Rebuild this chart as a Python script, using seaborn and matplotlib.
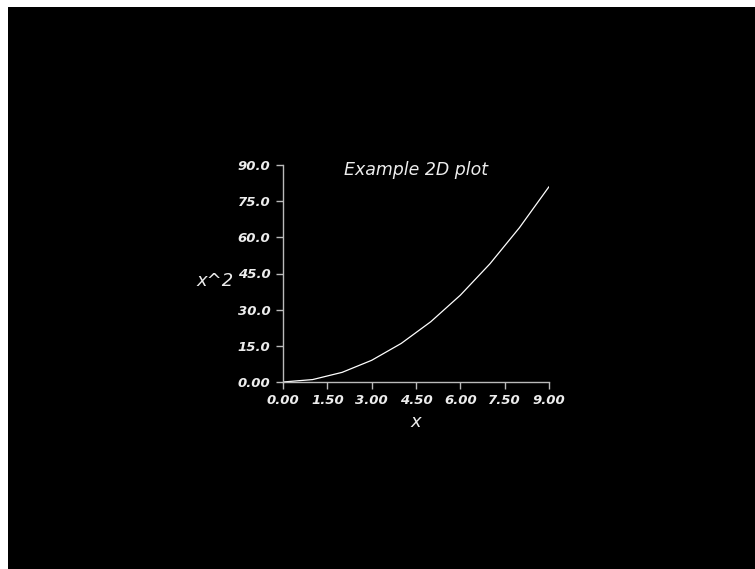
import matplotlib
matplotlib.use("Agg")
import matplotlib.pyplot as plt
import seaborn as sns

# data: y = x^2 sampled at integer x
x_vals = [0, 1, 2, 3, 4, 5, 6, 7, 8, 9]
y_vals = [0, 1, 4, 9, 16, 25, 36, 49, 64, 81]

x_ticks = [0, 1.5, 3, 4.5, 6, 7.5, 9]
x_tick_labels = ["0.00", "1.50", "3.00", "4.50", "6.00", "7.50", "9.00"]
y_ticks = [0, 15, 30, 45, 60, 75, 90]
y_tick_labels = ["0.00", "15.0", "30.0", "45.0", "60.0", "75.0", "90.0"]

sns.set_style("white")
plt.rcParams['font.family'] = ['DejaVu Sans']

fig = plt.figure(figsize=(7.55, 5.69), dpi=100, facecolor="white")

# black render window with a thin white margin on top/left
bg = fig.add_axes([8 / 755, 0, 1 - 8 / 755, 1 - 7 / 569], zorder=0)
bg.set_axis_off()
bg.add_patch(plt.Rectangle((0, 0), 1, 1, transform=bg.transAxes, color="black"))

ax = fig.add_axes([283 / 755, 1 - 382 / 569, 266 / 755, 217 / 569], zorder=1)
ax.set_facecolor("none")

sns.lineplot(x=x_vals, y=y_vals, ax=ax, color="white", linewidth=0.9)

ax.set_xlim(0, 9)
ax.set_ylim(0, 90)
ax.set_xticks(x_ticks)
ax.set_xticklabels(x_tick_labels)
ax.set_yticks(y_ticks)
ax.set_yticklabels(y_tick_labels)

fg = "#ededed"
for s in ["top", "right"]:
    ax.spines[s].set_visible(False)
for s in ["left", "bottom"]:
    ax.spines[s].set_color("#bbbbbb")
    ax.spines[s].set_linewidth(1.0)

ax.tick_params(axis="both", direction="out", length=5, width=1, color="#bbbbbb",
               labelcolor=fg, labelsize=9.5, pad=4, left=True, bottom=True)
for lab in ax.get_xticklabels() + ax.get_yticklabels():
    lab.set_fontweight("bold")
    lab.set_fontstyle("italic")

ax.text(0.5, 0.975, "Example 2D plot", transform=ax.transAxes, ha="center", va="center",
        color=fg, fontsize=12.5, fontstyle="italic")
ax.set_xlabel("x", color=fg, fontsize=13, fontstyle="italic", labelpad=4)
ax.set_ylabel("x^2", color=fg, fontsize=13, fontstyle="italic", rotation=0,
              ha="right", va="center")
ax.yaxis.set_label_coords(-0.185, 0.465)

fig.savefig("out.png", dpi=100, facecolor="white")
